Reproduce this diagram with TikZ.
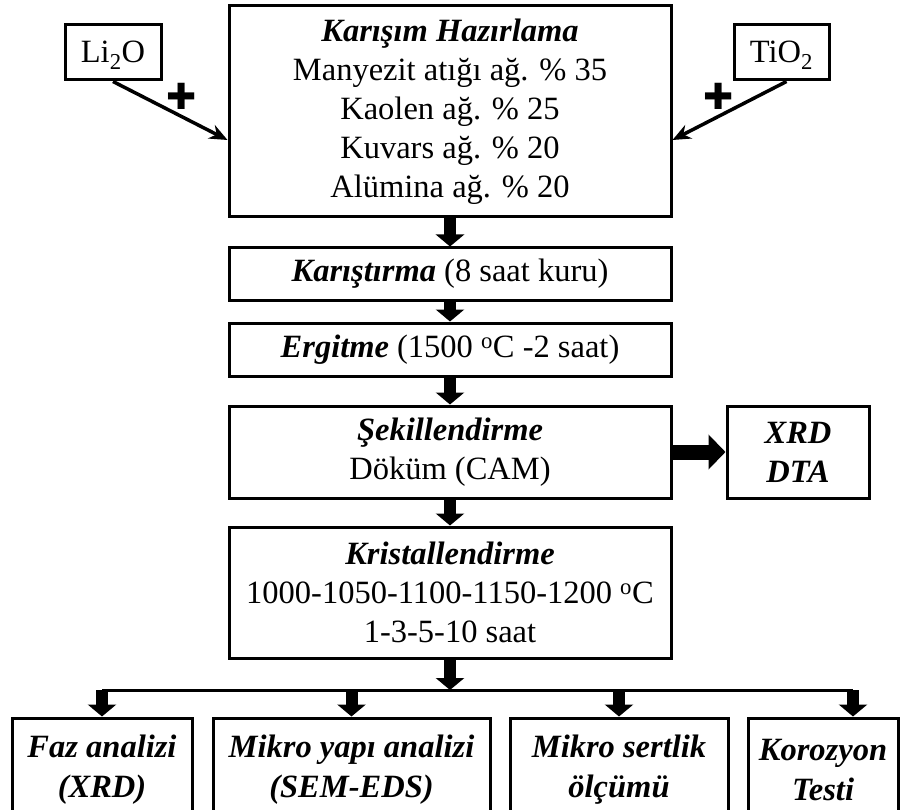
\documentclass[tikz,border=0pt]{standalone}
\usepackage{fontspec}
\setmainfont{Liberation Serif}
\newfontfamily\dejavu{DejaVu Sans}
\usetikzlibrary{arrows.meta,positioning,calc}

\begin{document}
\begin{tikzpicture}[
    x=1pt, y=-1pt,
    font=\fontsize{32.5}{39}\selectfont,
    box/.style={rectangle, draw, line width=3pt, inner sep=0pt, align=center},
    stepbox/.style={box, minimum width=442pt},
    addbox/.style={box, minimum height=55pt, text height=22pt, text depth=1pt},
    testbox/.style={box, minimum height=104pt, font=\fontsize{32.5}{40}\selectfont\bfseries\itshape},
    flow/.style={line width=12pt, -{Triangle[length=12pt, width=28pt]}},
    bigflow/.style={line width=15pt, -{Triangle[length=17pt, width=34pt]}},
    arrow/.style={line width=3.5pt, -{Stealth[length=18pt, width=15pt]}},
    plus/.style={font=\dejavu\fontsize{36}{36}\selectfont, inner sep=0pt}
]
\useasboundingbox (0,0) rectangle (904,810);

% Mixture preparation
\node[stepbox, minimum height=211pt] (mix) at (450,111.5) {
    \textbf{\textit{Karışım Hazırlama}}\\
    Manyezit atığı ağ. \% 35\\
    Kaolen ağ. \% 25\\
    Kuvars ağ. \% 20\\
    Alümina ağ. \% 20
};

% Additives
\node[addbox, minimum width=96pt] (li) at (113,52.5) {Li\textsubscript{2}O};
\node[addbox, minimum width=95pt] (ti) at (781.5,52.5) {TiO\textsubscript{2}};
\draw[arrow] (li.south) -- node[plus, pos=0.6, above=5pt] {✚} ([yshift=-28.5pt]mix.west);
\draw[arrow] ([xshift=5pt]ti.south) -- node[plus, pos=0.6, above=5pt] {✚} ([yshift=-28.5pt]mix.east);

% Process steps
\node[stepbox, minimum height=52pt] (stir) at (450,274) {\textbf{\textit{Karıştırma}} (8 saat kuru)};
\node[stepbox, minimum height=53pt] (melt) at (450,349.5) {\textbf{\textit{Ergitme}} (1500 \textsuperscript{o}C -2 saat)};
\node[stepbox, minimum height=92pt] (shape) at (450,452) {
    \textbf{\textit{Şekillendirme}}\\
    Döküm (CAM)
};
\node[stepbox, minimum height=131pt] (cryst) at (450,592.5) {
    \textbf{\textit{Kristallendirme}}\\
    1000-1050-1100-1150-1200 \textsuperscript{o}C\\
    1-3-5-10 saat
};
\node[box, minimum width=142pt, minimum height=92pt] (xrd) at (798,452) {
    \textbf{\textit{XRD}}\\
    \textbf{\textit{DTA}}
};

\draw[flow] (mix.south) -- (stir.north);
\draw[flow] (stir.south) -- (melt.north);
\draw[flow] (melt.south) -- (shape.north);
\draw[flow] (shape.south) -- (cryst.north);
\draw[bigflow] (shape.east) -- (xrd.west);

% Tests
\node[testbox, minimum width=180pt] (faz) at (102,770) {Faz analizi\\(XRD)};
\node[testbox, minimum width=277pt] (micro) at (351.5,770) {Mikro yapı analizi\\(SEM-EDS)};
\node[testbox, minimum width=218pt] (hard) at (619,770) {Mikro sertlik\\ölçümü};
\node[testbox, minimum width=150pt] (kor) at (823,770) {Korozyon\\Testi};

\coordinate (bus) at (450,690);
\coordinate (busR) at (853,690);
\draw[flow] (cryst.south) -- (bus);
\draw[line width=3pt] (faz.north |- bus) -- (busR);
\foreach \n in {faz, micro, hard}
    \draw[flow] (\n.north |- bus) -- (\n.north);
\draw[flow] (busR) -- (busR |- kor.north);

\end{tikzpicture}
\end{document}
